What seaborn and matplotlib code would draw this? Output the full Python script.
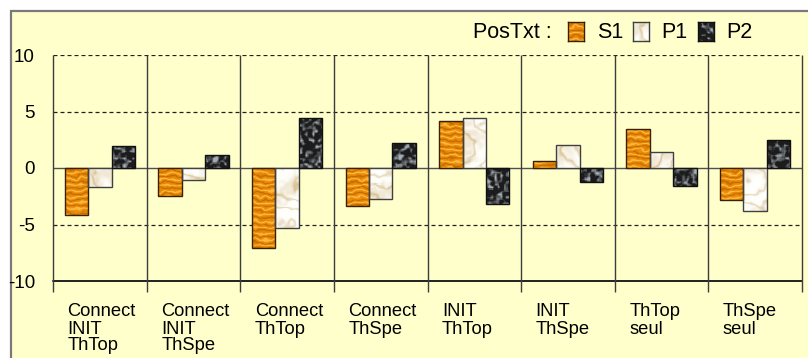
import numpy as np
import pandas as pd
import matplotlib
matplotlib.use("Agg")
import matplotlib.pyplot as plt
import matplotlib.transforms as mtransforms
from matplotlib.patches import Rectangle
import seaborn as sns

# --- data -------------------------------------------------------------
categories = ["Connect\nINIT\nThTop", "Connect\nINIT\nThSpe", "Connect\nThTop",
              "Connect\nThSpe", "INIT\nThTop", "INIT\nThSpe", "ThTop\nseul", "ThSpe\nseul"]
series = ["S1", "P1", "P2"]
s1 = [-4.2, -2.45, -7.1, -3.35, 4.2, 0.65, 3.45, -2.8]
p1 = [-1.7, -1.1, -5.3, -2.75, 4.45, 2.05, 1.45, -3.8]
p2 = [1.95, 1.15, 4.4, 2.2, -3.2, -1.2, -1.6, 2.5]
yticks = [-10, -5, 0, 5, 10]
legend_title = "PosTxt :"

df = pd.DataFrame({
    "cat": categories * 3,
    "serie": [s for s in series for _ in categories],
    "val": s1 + p1 + p2,
})

# --- procedural textures (wood, marble, granite) -----------------------
def _hash(x, y):
    v = np.sin(x * 12.9898 + y * 78.233) * 43758.5453
    return v - np.floor(v)

def _box(a, k=1):
    out = np.zeros_like(a)
    n = 0
    for dy in range(-k, k + 1):
        for dx in range(-k, k + 1):
            out += np.roll(np.roll(a, dy, 0), dx, 1)
            n += 1
    return out / n

def _lerp(c0, c1, t):
    c0 = np.array(matplotlib.colors.to_rgb(c0))
    c1 = np.array(matplotlib.colors.to_rgb(c1))
    return c0 + (c1 - c0) * t[..., None]

def _mix(img, color, t):
    c = np.array(matplotlib.colors.to_rgb(color))
    return img * (1 - t[..., None]) + c * t[..., None]

def wood(h, w):
    y, x = np.mgrid[0:h, 0:w].astype(float)
    n1 = _box(_hash(np.floor(x / 5), np.floor(y / 3)), 2)
    n2 = _box(_hash(np.floor(x / 2) + 11, np.floor(y / 2) + 5), 1)
    v = np.sin(1.05 * y + 5.0 * n1 + 0.7 * np.sin(0.23 * x) + 1.5 * n2)
    t = (v + 1) / 2
    img = _lerp("#dc7c02", "#f49a14", t)
    img = _mix(img, "#fbbd48", np.clip((t - 0.82) * 5, 0, 1))
    img = _mix(img, "#b86400", np.clip((0.1 - t) * 7, 0, 1))
    return np.clip(img, 0, 1)

def marble(h, w):
    y, x = np.mgrid[0:h, 0:w].astype(float)
    n = _box(_hash(np.floor(x / 4), np.floor(y / 4)), 2)
    v = np.sin(0.045 * x + 0.08 * y + 2.4 * np.sin(0.07 * x - 0.05 * y) + 1.4 * np.sin(0.12 * y + 0.03 * x) + 1.5 * n)
    vein = np.exp(-(v * v) / 0.12)
    soft = (np.sin(0.06 * x + 0.035 * y + 2 * np.sin(0.05 * y) + 2 * n) + 1) / 2
    t = np.clip(0.55 * vein + 0.35 * soft ** 4, 0, 1)
    return _lerp("#fffffc", "#d6bd8c", t)

def granite(h, w):
    y, x = np.mgrid[0:h, 0:w].astype(float)
    n = 0.6 * _hash(np.floor(x / 3), np.floor(y / 3)) + 0.4 * _hash(np.floor(x / 2) + 7, np.floor(y / 2) + 3)
    n = _box(n, 1)
    t = np.clip((n - 0.45) * 3.0, 0, 1)
    return _lerp("#1c1c1c", "#a4acb4", t)

textures = {"S1": wood, "P1": marble, "P2": granite}
edges = {"S1": "#3a2000", "P1": "#404040", "P2": "#101010"}

# --- figure -----------------------------------------------------------
W, H = 808, 358
bg = "#ffffcc"
sns.set_theme(style="white")
plt.rcParams["font.family"] = ["Liberation Sans", "DejaVu Sans"]

fig = plt.figure(figsize=(W / 100, H / 100), dpi=100)
fig.patch.set_facecolor("white")
fig.patches.append(Rectangle((11 / W, -0.1), 1.2, 1 - 10.5 / H + 0.1, transform=fig.transFigure,
                             facecolor=bg, edgecolor="#7a7a7a", lw=1.6, zorder=-10))

x0, x1, ytop, ybot = 53, 802, 55, 281
ax = fig.add_axes([x0 / W, 1 - ybot / H, (x1 - x0) / W, (ybot - ytop) / H])
ax.set_facecolor("none")

sns.barplot(data=df, x="cat", y="val", hue="serie", order=categories, hue_order=series,
            width=0.75, ax=ax, legend=False, errorbar=None, zorder=3)

ax.set_xlim(-0.5, len(categories) - 0.5)
ax.set_ylim(-10, 10)
ext = (-0.5, len(categories) - 0.5, -10, 10)
pw, ph = int(x1 - x0), int(ybot - ytop)

for cont, name in zip(ax.containers, series):
    tex = textures[name](ph, pw)
    for bar in cont:
        bar.set_facecolor("none")
        bar.set_edgecolor(edges[name])
        bar.set_linewidth(1.0)
        im = ax.imshow(tex, extent=ext, aspect="auto", origin="upper",
                       interpolation="nearest", zorder=2.5)
        im.set_clip_path(bar)

ax.set_xlim(-0.5, len(categories) - 0.5)
ax.set_ylim(-10, 10)

# grid lines
for yv in (5, -5, 10):
    ax.axhline(yv, color="#202020", lw=0.9, ls=(0, (3.2, 2.4)), zorder=1)
ax.axhline(0, color="#505050", lw=1.0, zorder=2)
ax.axhline(-10, color="#202020", lw=1.4, zorder=4, clip_on=False)

# category separators, running down past the axis as ticks
trans = mtransforms.blended_transform_factory(ax.transData, ax.transAxes)
for k in range(len(categories) + 1):
    ax.plot([k - 0.5, k - 0.5], [1, -11 / ph], transform=trans, color="#3c3c3c",
            lw=1.0, clip_on=False, zorder=4, solid_capstyle="butt")

for s in ax.spines.values():
    s.set_visible(False)

ax.set_xticks([])
ax.set_xlabel("")
ax.set_ylabel("")
ax.set_yticks(yticks)
ax.set_yticklabels([str(v) for v in yticks], fontsize=13.5, color="black")
ax.tick_params(axis="y", length=0, pad=13)

for k, lab in enumerate(categories):
    ax.text(k - 0.5 + 14.5 / 93.6, -22.5 / ph, lab, transform=trans, ha="left", va="top",
            fontsize=13.2, linespacing=1.0, color="black")

# legend
fig.text(473 / W, 1 - 32 / H, legend_title, ha="left", va="center", fontsize=15.5, color="black")
leg_items = [("S1", 568, 597), ("P1", 633, 661), ("P2", 698, 726)]
for name, px, tx in leg_items:
    lax = fig.add_axes([px / W, 1 - 41 / H, 16 / W, 19 / H])
    lax.imshow(textures[name](19, 16), aspect="auto", interpolation="nearest")
    lax.set_xticks([])
    lax.set_yticks([])
    for s in lax.spines.values():
        s.set_edgecolor(edges[name])
        s.set_linewidth(1.0)
    fig.text(tx / W, 1 - 32 / H, name, ha="left", va="center", fontsize=15.5, color="black")

fig.savefig("out.png", dpi=100, facecolor=fig.get_facecolor())
